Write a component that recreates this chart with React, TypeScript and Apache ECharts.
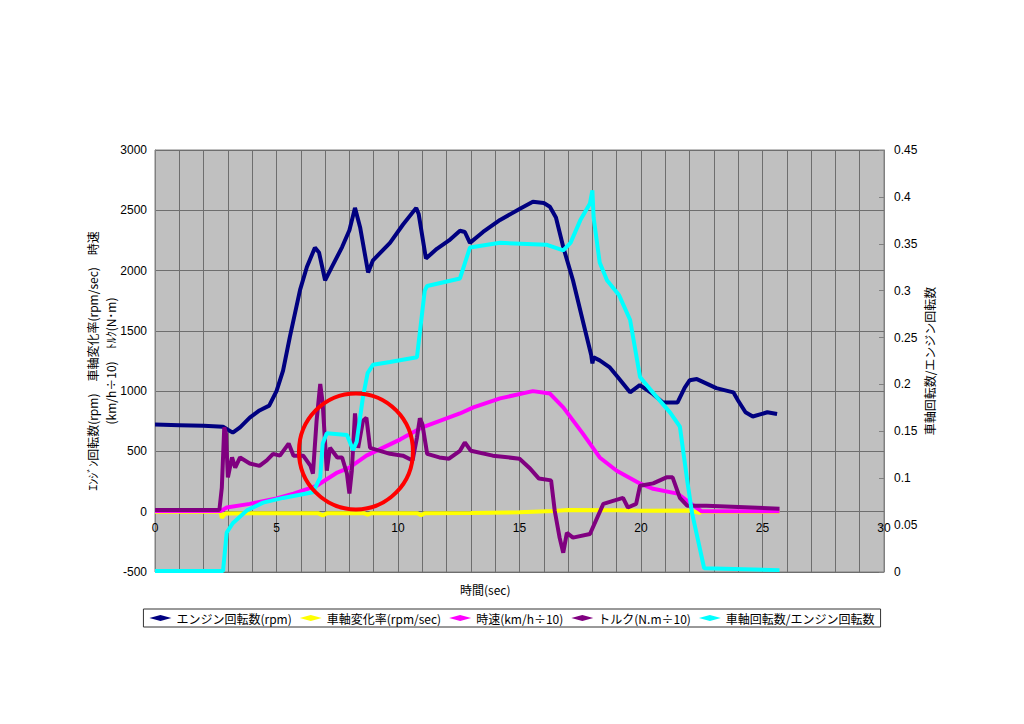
import React, { useEffect, useRef } from 'react';
import * as echarts from 'echarts';

// time (sec) / value pairs
const engineRpm: [number, number][] = [
  [0, 723], [1, 718], [2, 712], [2.8, 705], [3.0, 680], [3.2, 656], [3.5, 700], [3.9, 780], [4.3, 840],
  [4.7, 880], [5.0, 1000], [5.27, 1170], [5.55, 1450], [5.97, 1840], [6.25, 2030], [6.58, 2190],
  [6.75, 2150], [7.0, 1920], [7.28, 2030], [7.7, 2195], [8.0, 2335], [8.23, 2520], [8.44, 2360],
  [8.77, 1985], [8.97, 2085], [9.67, 2230], [10.2, 2380], [10.75, 2520], [10.85, 2470], [11.15, 2100],
  [11.6, 2180], [12.1, 2250], [12.55, 2330], [12.75, 2320], [12.96, 2230], [13.5, 2320], [14.2, 2420],
  [15.0, 2510], [15.55, 2570], [16.0, 2560], [16.25, 2530], [16.5, 2440], [16.8, 2195], [17.2, 1920],
  [17.7, 1505], [17.95, 1300], [18.0, 1230], [18.05, 1280], [18.3, 1255], [18.7, 1200], [19.05, 1115],
  [19.55, 990], [19.95, 1050], [20.5, 975], [20.9, 905], [21.5, 905], [21.8, 1030], [22.0, 1090],
  [22.3, 1100], [23.1, 1025], [23.8, 990], [24.0, 920], [24.3, 825], [24.6, 790], [25.2, 825], [25.6, 810],
];

const axleRate: [number, number][] = [
  [0, 0], [2.7, 0], [2.75, -50], [2.9, -15], [4, -12], [6.7, -12], [6.9, -30], [7.1, -12], [8.6, -12],
  [8.75, -25], [8.9, -12], [10.8, -12], [10.95, -30], [11.1, -12], [13, -10], [15, -5], [16.4, 5],
  [17, 15], [19, 12], [20, 8], [22, 10], [22.4, -10], [22.5, 0], [25.7, 0],
];

const speed: [number, number][] = [
  [0, 5], [2.7, 5], [2.95, 35], [3.9, 65], [5.0, 110], [5.7, 150], [6.65, 215], [7.5, 325], [8.0, 365],
  [8.7, 465], [10.1, 600], [11.0, 700], [12.55, 815], [13.1, 865], [14.2, 940], [15.55, 1000],
  [16.25, 980], [16.8, 865], [17.6, 650], [18.3, 450], [19.0, 340], [19.95, 235], [20.5, 190],
  [21.5, 150], [22.0, 75], [22.5, 3], [25.7, 3],
];

const torque: [number, number][] = [
  [0, 15], [2.65, 15], [2.75, 200], [2.85, 700], [2.92, 650], [3.0, 285], [3.17, 450], [3.3, 365],
  [3.5, 450], [3.9, 400], [4.3, 380], [4.6, 425], [4.86, 480], [5.14, 465], [5.5, 565], [5.7, 465],
  [6.1, 465], [6.4, 380], [6.5, 315], [6.65, 755], [6.8, 1060], [6.9, 900], [7.07, 340], [7.2, 530],
  [7.5, 450], [7.7, 450], [7.9, 315], [8.0, 150], [8.1, 340], [8.23, 815], [8.36, 530], [8.56, 755],
  [8.7, 780], [8.85, 530], [9.26, 505], [9.67, 480], [10.2, 465], [10.6, 425], [10.78, 615], [10.9, 775],
  [11.0, 730], [11.2, 480], [11.7, 450], [12.1, 440], [12.55, 505], [12.75, 575], [13.0, 505],
  [13.9, 465], [15.0, 440], [15.4, 365], [15.8, 275], [16.3, 260], [16.45, 8], [16.65, -215],
  [16.8, -340], [16.95, -175], [17.2, -215], [17.9, -185], [18.45, 65], [18.85, 90], [19.26, 115],
  [19.46, 35], [19.8, 65], [19.96, 215], [20.5, 235], [21.05, 285], [21.3, 285], [21.6, 115],
  [21.9, 50], [22.7, 50], [25.7, 25],
];

const ratio: [number, number][] = [
  [0, 0.001], [2.8, 0.001], [2.95, 0.042], [3.2, 0.052], [3.8, 0.066], [4.45, 0.074], [5.27, 0.079],
  [6.5, 0.085], [6.8, 0.101], [6.9, 0.137], [7.07, 0.148], [7.9, 0.146], [8.15, 0.13], [8.3, 0.139],
  [8.56, 0.187], [8.75, 0.212], [8.97, 0.221], [9.67, 0.224], [10.78, 0.229], [11.1, 0.3], [11.2, 0.305],
  [12.55, 0.313], [12.96, 0.346], [14.2, 0.351], [16.1, 0.349], [16.8, 0.343], [17.1, 0.351],
  [17.5, 0.375], [17.9, 0.393], [18.0, 0.407], [18.05, 0.378], [18.3, 0.33], [18.6, 0.311],
  [19.1, 0.295], [19.55, 0.269], [19.96, 0.208], [20.5, 0.191], [21.2, 0.17], [21.6, 0.155],
  [21.9, 0.098], [22.1, 0.063], [22.6, 0.004], [25.7, 0.002],
];

const seriesNames = [
  'エンジン回転数(rpm)',
  '車軸変化率(rpm/sec)',
  '時速(km/h÷10)',
  'トルク(N.m÷10)',
  '車軸回転数/エンジン回転数',
];
const seriesColors = ['#000080', '#FFFF00', '#FF00FF', '#800080', '#00FFFF'];

const leftAxisName = 'ｴﾝｼﾞﾝ回転数(rpm)　車軸変化率(rpm/sec)　時速\n(km/h÷10)　ﾄﾙｸ(N･m)';
const rightAxisName = '車軸回転数/エンジン回転数';
const xAxisName = '時間(sec)';

const leftMin = -500;
const leftMax = 3000;

// annotation circle center in data units (sec, left axis value)
const circleCenter: [number, number] = [8.27, 500];

export default function App() {
  const ref = useRef<HTMLDivElement>(null);
  useEffect(() => {
    document.body.style.margin = '0';
    const chart = echarts.init(ref.current!, undefined, { renderer: 'svg' });
    const font = '"Liberation Sans", Arial, sans-serif';
    const jp = '"Noto Sans CJK JP", sans-serif';
    const gridColor = '#6e6e6e';
    const gridHeight = 422;
    // move the x axis up to the zero line of the left axis
    const zeroOffset = -gridHeight * (0 - leftMin) / (leftMax - leftMin);
    const datasets = [engineRpm, axleRate, speed, torque, ratio];
    const xName = {
      type: 'text', left: 460, top: 583,
      style: { text: xAxisName, font: `12px ${jp}`, fill: '#000' },
    };
    chart.setOption({
      animation: false,
      backgroundColor: '#ffffff',
      grid: {
        left: 155, right: 140, top: 150, height: gridHeight,
        show: true, backgroundColor: '#C0C0C0', borderColor: '#808080', borderWidth: 1,
      },
      legend: {
        data: seriesNames,
        left: 'center', top: 609,
        icon: 'diamond',
        itemWidth: 22, itemHeight: 6, itemGap: 8,
        borderColor: '#333', borderWidth: 1, padding: [3, 6],
        textStyle: { fontFamily: jp, fontSize: 12, color: '#000' },
        lineStyle: { width: 1.5 },
      },
      xAxis: {
        type: 'value', min: 0, max: 30, interval: 1,
        offset: zeroOffset,
        axisLine: { show: false, onZero: false },
        axisTick: { show: false },
        axisLabel: {
          margin: 10, fontFamily: font, fontSize: 12, color: '#000',
          formatter: (v: number) => (v % 5 === 0 ? String(v) : ''),
        },
        splitLine: { show: true, lineStyle: { color: gridColor, width: 1 } },
      },
      yAxis: [
        {
          type: 'value', min: leftMin, max: leftMax, interval: 500, position: 'left',
          axisLine: { show: true, lineStyle: { color: '#808080' } },
          axisTick: { show: false },
          axisLabel: {
            margin: 8, fontFamily: font, fontSize: 12, color: '#000',
            formatter: (v: number) => String(v),
          },
          splitLine: { show: true, lineStyle: { color: gridColor, width: 1 } },
          name: leftAxisName, nameLocation: 'middle', nameGap: 36, nameRotate: 90,
          nameMoveOverlap: false,
          nameTextStyle: { fontFamily: jp, fontSize: 12, color: '#000', lineHeight: 18, align: 'center' },
        },
        {
          type: 'value', min: 0, max: 0.45, interval: 0.05, position: 'right',
          axisLine: { show: true, lineStyle: { color: '#808080' } },
          axisTick: { show: true, inside: true, length: 5, lineStyle: { color: '#808080' } },
          axisLabel: { margin: 10, fontFamily: font, fontSize: 12, color: '#000' },
          splitLine: { show: false },
          name: rightAxisName, nameLocation: 'middle', nameGap: 39, nameRotate: 90,
          nameMoveOverlap: false,
          nameTextStyle: { fontFamily: jp, fontSize: 12, color: '#000' },
        },
      ],
      series: datasets.map((d, i) => ({
        name: seriesNames[i],
        type: 'line',
        yAxisIndex: i === 4 ? 1 : 0,
        data: d,
        showSymbol: false,
        symbol: 'diamond',
        color: seriesColors[i],
        lineStyle: { color: seriesColors[i], width: 4 },
        emphasis: { disabled: true },
      })),
      graphic: [xName],
    });
    const c = chart.convertToPixel({ seriesIndex: 0 }, circleCenter) as number[];
    chart.setOption({
      graphic: [
        xName,
        {
          type: 'ellipse', z: 100,
          shape: { cx: c[0], cy: c[1], rx: 57, ry: 58 },
          style: { fill: 'none', stroke: '#FF0000', lineWidth: 4 },
        },
      ],
    });
    return () => chart.dispose();
  }, []);
  return <div ref={ref} style={{ width: 1024, height: 724 }} />;
}
